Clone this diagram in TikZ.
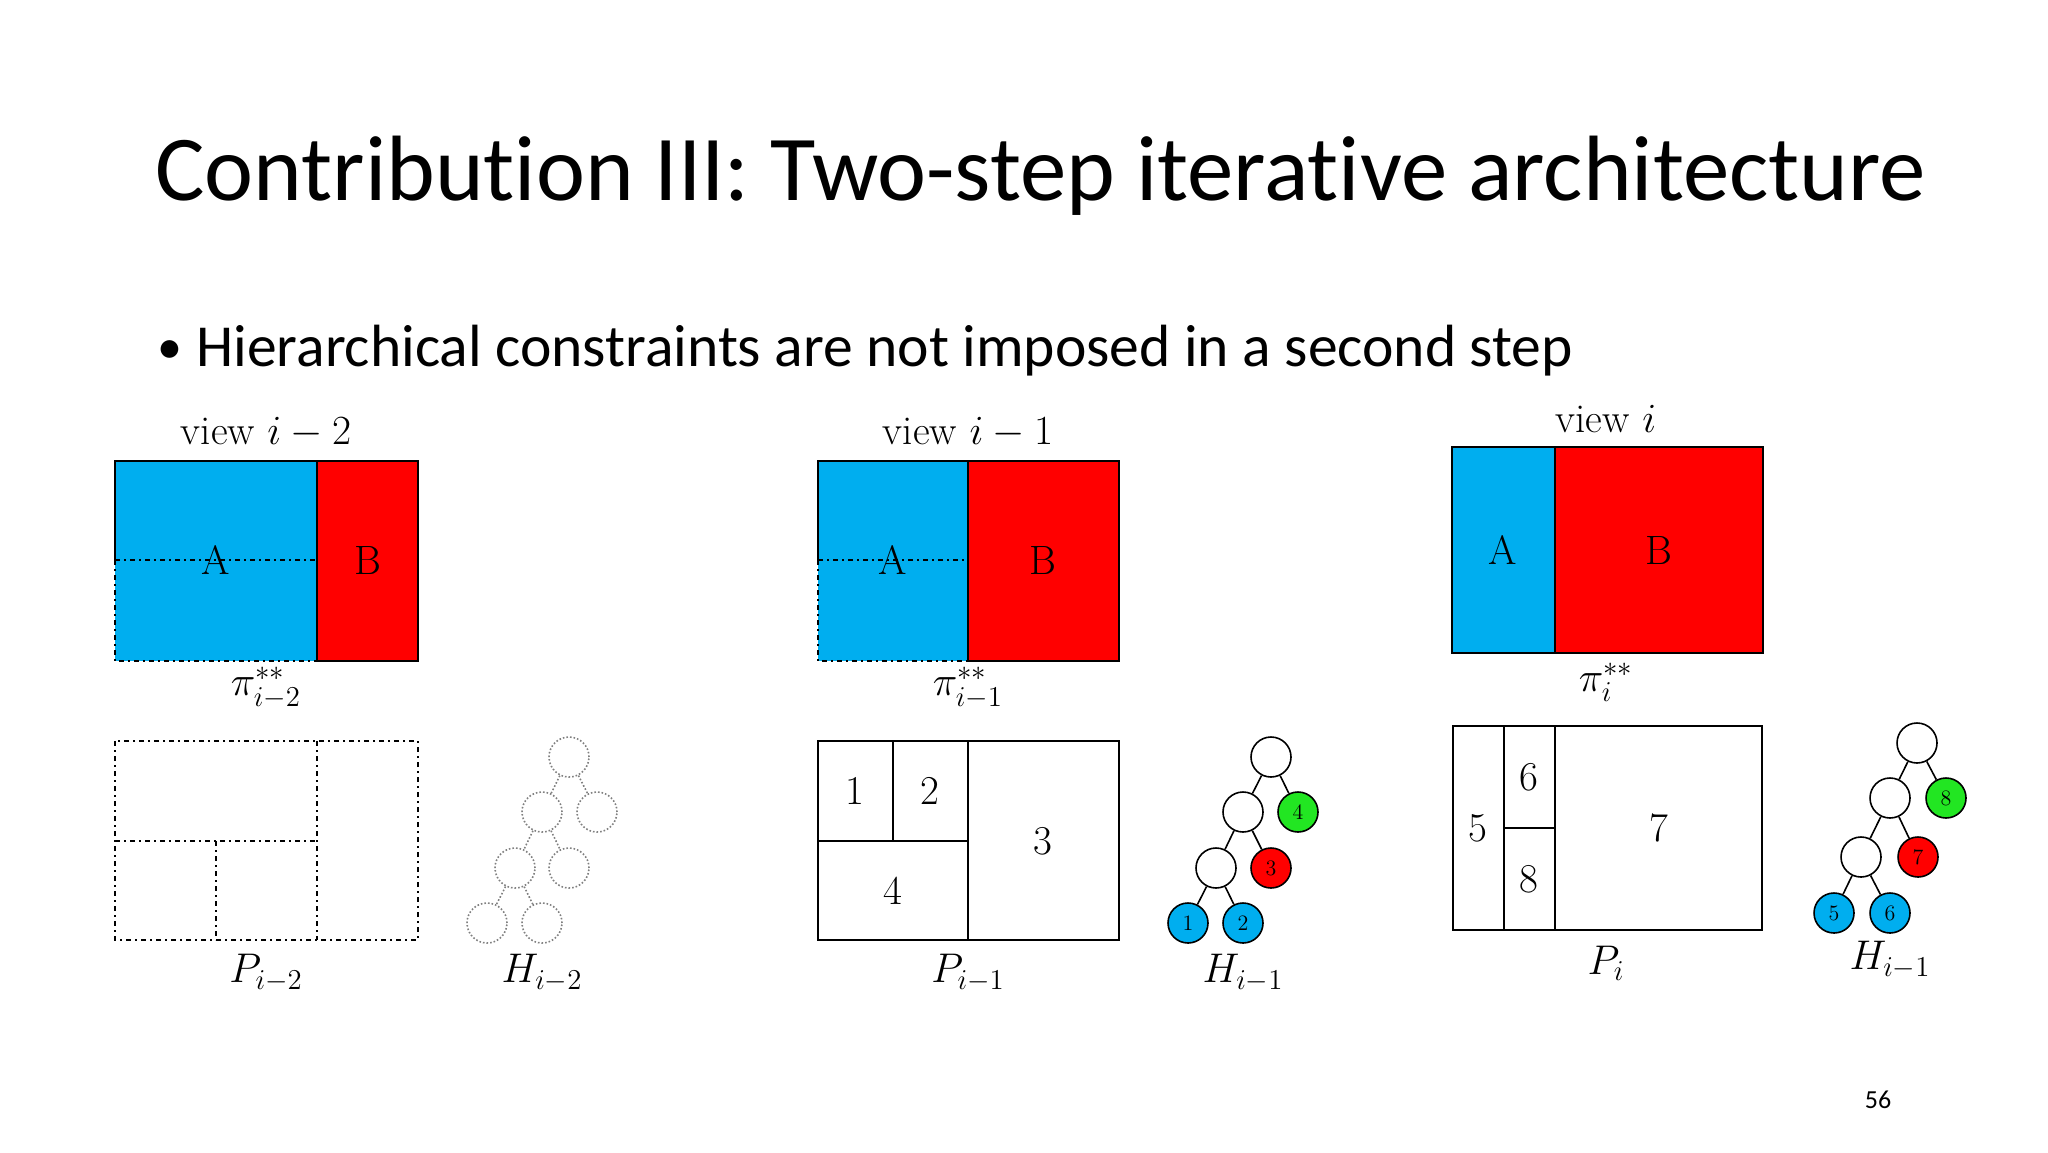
\documentclass[tikz,border=0pt]{standalone}
\usepackage{fontspec}
\newfontfamily\slidefont[Ligatures = NoCommon]{Carlito}
\definecolor{viewblue}{RGB}{0,174,239}
\definecolor{viewred}{RGB}{255,0,0}
\definecolor{viewgreen}{RGB}{34,230,34}
\tikzset{
  part/.style = {draw, line width = 1.1pt},
  dotpart/.style = {draw, line width = 1.1pt, dash pattern = on 2.5pt off 2pt on 1pt off 2pt},
  lbl/.style = {font = \fontsize{20.5}{24}\selectfont},
  biglbl/.style = {font = \fontsize{22}{26}\selectfont},
  hnode/.style = {circle, draw, line width = 0.8pt, minimum size = 20pt, inner sep = 0pt, font = \fontsize{11}{12}\selectfont},
  ghost/.style = {circle, draw = gray, densely dotted, line width = 0.8pt, minimum size = 20pt, inner sep = 0pt},
  hedge/.style = {line width = 0.8pt},
  gedge/.style = {draw = gray, densely dotted, line width = 0.8pt}
}
\begin{document}
\begin{tikzpicture}[x = 0.5pt, y = -0.5pt]
\useasboundingbox (0, 0) rectangle (2048, 1152);

\node[anchor = base west, inner sep = 0pt, font = \slidefont\fontsize{46.4}{50}\selectfont] (title) at (155, 200) {Contribution III: Two-step iterative architecture};
\node[anchor = base west, inner sep = 0pt, font = \slidefont\fontsize{25}{30}\selectfont] (dot) at (157, 363) {•};
\node[anchor = base west, inner sep = 0pt, font = \slidefont\fontsize{29.8}{34}\selectfont] (point) at (196, 366) {Hierarchical constraints are not imposed in a second step};
\node[font = \slidefont\fontsize{13}{15}\selectfont] (page) at (1878, 1100) {56};

% view i-2
\fill[viewblue] (115, 461) rectangle (317, 661);
\fill[viewred] (317, 461) rectangle (418, 661);
\draw[part] (115, 560) -- (115, 461) -- (418, 461) -- (418, 661) -- (317, 661);
\draw[part] (317, 461) -- (317, 661);
\draw[dotpart] (115, 560) -- (115, 661) -- (317, 661);
\draw[dotpart] (115, 560) -- (317, 560);
\node[lbl] (viewa) at (266, 433) {view $i-2$};
\node[lbl] (Aa) at (216, 560) {A};
\node[lbl] (Ba) at (368, 560) {B};
\node[biglbl] (pia) at (266, 688) {$\pi^{**}_{i-2}$};

\draw[dotpart] (115, 741) rectangle (418, 940);
\draw[dotpart] (317, 741) -- (317, 940);
\draw[dotpart] (115, 841) -- (317, 841);
\draw[dotpart] (216, 841) -- (216, 940);
\node[biglbl] (Pa) at (266, 973) {$P_{i-2}$};

\node[ghost] (ga1) at (569, 757) {};
\node[ghost] (ga2) at (542, 812) {};
\node[ghost] (ga3) at (597, 812) {};
\node[ghost] (ga4) at (515, 868) {};
\node[ghost] (ga5) at (569, 868) {};
\node[ghost] (ga6) at (487, 923) {};
\node[ghost] (ga7) at (542, 923) {};
\draw[gedge] (ga1) -- (ga2);
\draw[gedge] (ga1) -- (ga3);
\draw[gedge] (ga2) -- (ga4);
\draw[gedge] (ga2) -- (ga5);
\draw[gedge] (ga4) -- (ga6);
\draw[gedge] (ga4) -- (ga7);
\node[biglbl] (Ha) at (542, 973) {$H_{i-2}$};

% view i-1
\fill[viewblue] (818, 461) rectangle (968, 661);
\fill[viewred] (968, 461) rectangle (1119, 661);
\draw[part] (818, 560) -- (818, 461) -- (1119, 461) -- (1119, 661) -- (968, 661);
\draw[part] (968, 461) -- (968, 661);
\draw[dotpart] (818, 560) -- (818, 661) -- (968, 661);
\draw[dotpart] (818, 560) -- (968, 560);
\node[lbl] (viewb) at (968, 433) {view $i-1$};
\node[lbl] (Ab) at (893, 560) {A};
\node[lbl] (Bb) at (1043, 560) {B};
\node[biglbl] (pib) at (968, 688) {$\pi^{**}_{i-1}$};

\draw[part] (818, 741) rectangle (1119, 940);
\draw[part] (968, 741) -- (968, 940);
\draw[part] (818, 841) -- (968, 841);
\draw[part] (893, 741) -- (893, 841);
\node[lbl] (pb1) at (855, 791) {1};
\node[lbl] (pb2) at (930, 791) {2};
\node[lbl] (pb3) at (1043, 841) {3};
\node[lbl] (pb4) at (893, 891) {4};
\node[biglbl] (Pb) at (968, 973) {$P_{i-1}$};

\node[hnode] (hb1) at (1271, 757) {};
\node[hnode] (hb2) at (1243, 812) {};
\node[hnode, fill = viewgreen] (hb3) at (1298, 812) {4};
\node[hnode] (hb4) at (1216, 868) {};
\node[hnode, fill = viewred] (hb5) at (1271, 868) {3};
\node[hnode, fill = viewblue] (hb6) at (1188, 923) {1};
\node[hnode, fill = viewblue] (hb7) at (1243, 923) {2};
\draw[hedge] (hb1) -- (hb2);
\draw[hedge] (hb1) -- (hb3);
\draw[hedge] (hb2) -- (hb4);
\draw[hedge] (hb2) -- (hb5);
\draw[hedge] (hb4) -- (hb6);
\draw[hedge] (hb4) -- (hb7);
\node[biglbl] (Hb) at (1243, 973) {$H_{i-1}$};

% view i
\fill[viewblue] (1452, 447) rectangle (1555, 653);
\fill[viewred] (1555, 447) rectangle (1763, 653);
\draw[part] (1452, 447) rectangle (1763, 653);
\draw[part] (1555, 447) -- (1555, 653);
\node[lbl] (viewc) at (1606, 419) {view $i$};
\node[lbl] (Ac) at (1503, 550) {A};
\node[lbl] (Bc) at (1659, 550) {B};
\node[biglbl] (pic) at (1606, 682) {$\pi^{**}_{i}$};

\draw[part] (1453, 726) rectangle (1762, 930);
\draw[part] (1504, 726) -- (1504, 930);
\draw[part] (1555, 726) -- (1555, 930);
\draw[part] (1504, 828) -- (1555, 828);
\node[lbl] (pc5) at (1478, 828) {5};
\node[lbl] (pc6) at (1529, 777) {6};
\node[lbl] (pc8) at (1529, 879) {8};
\node[lbl] (pc7) at (1659, 828) {7};
\node[biglbl] (Pc) at (1606, 963) {$P_{i}$};

\node[hnode] (hc1) at (1917, 743) {};
\node[hnode] (hc2) at (1890, 798) {};
\node[hnode, fill = viewgreen] (hc3) at (1946, 798) {8};
\node[hnode] (hc4) at (1861, 857) {};
\node[hnode, fill = viewred] (hc5) at (1918, 857) {7};
\node[hnode, fill = viewblue] (hc6) at (1834, 913) {5};
\node[hnode, fill = viewblue] (hc7) at (1890, 913) {6};
\draw[hedge] (hc1) -- (hc2);
\draw[hedge] (hc1) -- (hc3);
\draw[hedge] (hc2) -- (hc4);
\draw[hedge] (hc2) -- (hc5);
\draw[hedge] (hc4) -- (hc6);
\draw[hedge] (hc4) -- (hc7);
\node[biglbl] (Hc) at (1890, 960) {$H_{i-1}$};
\end{tikzpicture}
\end{document}
